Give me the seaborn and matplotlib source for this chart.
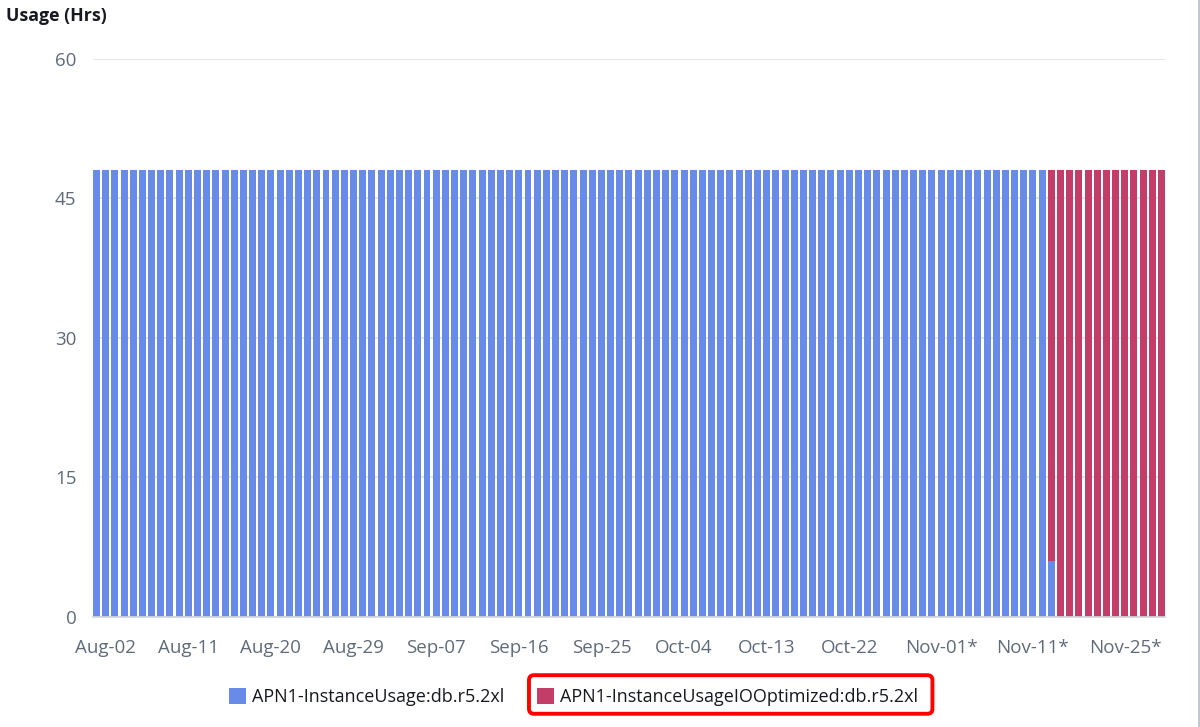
import matplotlib
matplotlib.use("Agg")
import matplotlib.pyplot as plt
from matplotlib.patches import Patch, FancyBboxPatch
from matplotlib.lines import Line2D
from matplotlib.transforms import IdentityTransform
import pandas as pd
import seaborn as sns

# daily usage hours, Aug-01 .. Nov-25
days = pd.date_range("2023-08-01", "2023-11-25", freq="D")
std_hrs = [48] * 104 + [6] + [0] * 12
io_hrs = [0] * 104 + [42] + [48] * 12
series_names = ["APN1-InstanceUsage:db.r5.2xl", "APN1-InstanceUsageIOOptimized:db.r5.2xl"]
series_colors = ["#688ae8", "#c33d69"]
tick_days = ["08-02", "08-11", "08-20", "08-29", "09-07", "09-16", "09-25",
             "10-04", "10-13", "10-22", "11-01", "11-11", "11-25"]
tick_labels = ["Aug-02", "Aug-11", "Aug-20", "Aug-29", "Sep-07", "Sep-16", "Sep-25",
               "Oct-04", "Oct-13", "Oct-22", "Nov-01*", "Nov-11*", "Nov-25*"]
y_ticks = [0, 15, 30, 45, 60]

sns.set_theme(style="white")
plt.rcParams["font.family"] = ["Open Sans", "DejaVu Sans"]

day_keys = list(days.strftime("%m-%d"))
df = pd.DataFrame({
    "day": list(range(len(days))) * 2,
    "hrs": std_hrs + io_hrs,
    "usage": [series_names[0]] * len(days) + [series_names[1]] * len(days),
})

fig = plt.figure(figsize=(12, 7.27), dpi=100)
ax = fig.add_axes([0.0775, 0.1517, 0.8933, 0.7675])
w = 0.76
# seaborn stacks the last hue level at the bottom, so list the IO series first
sns.histplot(data=df, x="day", weights="hrs", hue="usage", hue_order=series_names[::-1],
             palette=series_colors[::-1], multiple="stack", discrete=True, shrink=w,
             linewidth=0, alpha=1, legend=False, ax=ax)

ax.set_xlim(-w / 2, len(days) - 1 + w / 2)
ax.set_ylim(0, 60)
ax.set_yticks(y_ticks)
ax.set_xticks([day_keys.index(t) for t in tick_days])
ax.set_xticklabels(tick_labels)
ax.get_xticklabels()[-1].set_ha("right")
ax.set_xlabel("")
ax.set_ylabel("")
ax.grid(axis="y", color="#dde1e4", linewidth=1.2)
ax.set_axisbelow(True)
for s in ["top", "right", "left"]:
    ax.spines[s].set_visible(False)
ax.spines["bottom"].set_color("#d1d5db")
ax.tick_params(axis="x", length=6, color="#d1d5db", pad=10, labelsize=13.5, labelcolor="#5f6b7a")
ax.tick_params(axis="y", length=0, pad=12, labelsize=13.5, labelcolor="#5f6b7a")

fig.text(0.005, 0.99, "Usage (Hrs)", ha="left", va="top", fontsize=12.8,
         fontweight="bold", color="#16191f")

handles = [Patch(facecolor=c, edgecolor="none") for c in series_colors]
leg = fig.legend(handles, series_names, loc="center", bbox_to_anchor=(0.478, 0.041),
                 ncol=2, frameon=False, fontsize=13, handlelength=0.95, handleheight=0.95,
                 handletextpad=0.35, columnspacing=1.8, labelcolor="#16191f")

# right card border
fig.add_artist(Line2D([0.9988, 0.9988], [0, 1], transform=fig.transFigure,
                      color="#b6bec9", linewidth=1.2))

# red highlight around second legend entry
fig.canvas.draw()
r = fig.canvas.get_renderer()
tb = leg.get_texts()[1].get_window_extent(r)
hb = leg.legend_handles[1].get_window_extent(r)
x0, x1 = hb.x0 - 8, tb.x1 + 14
y0, y1 = hb.y0 - 10, hb.y1 + 13
fig.add_artist(FancyBboxPatch((x0, y0), x1 - x0, y1 - y0,
                              boxstyle="round,pad=0,rounding_size=5",
                              transform=IdentityTransform(), facecolor="none",
                              edgecolor="#ff0000", linewidth=2.8))

fig.savefig("out.png", dpi=100)
